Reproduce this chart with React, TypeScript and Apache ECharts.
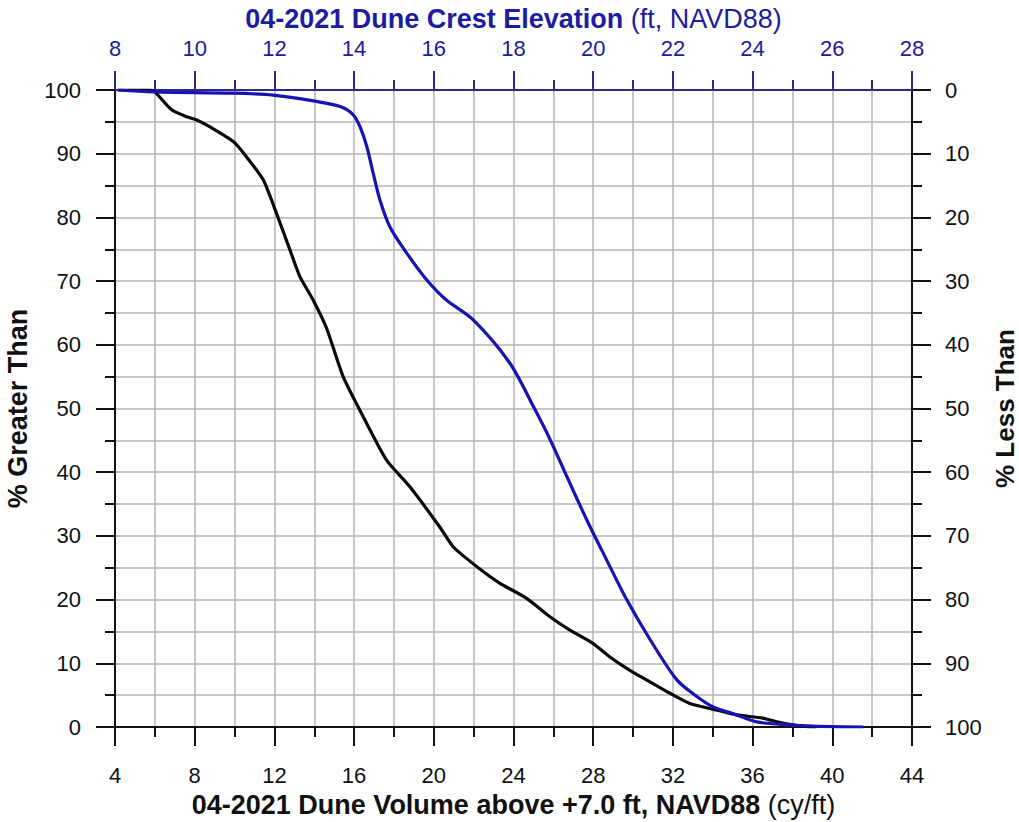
import React, { useEffect, useRef } from "react";
import * as echarts from "echarts";

// Black curve: dune volume (cy/ft) vs % greater than
const volume = [4.15, 5.75, 6.0, 6.84, 7.6, 8.1, 8.77, 9.94, 10.6, 11.44, 12.11, 12.78, 13.28, 13.95, 14.62, 15.45, 16.46, 17.63, 18.8, 20.3, 20.97, 22.15, 23.3, 24.66, 25.83, 26.83, 28.0, 28.84, 29.84, 30.84, 31.85, 32.85, 34.0, 35.2, 36.5, 37.5, 38.5, 39.2];
const volumePct = [100, 100, 99.7, 96.9, 95.8, 95.3, 94.2, 91.9, 89.5, 85.9, 80.6, 74.9, 70.7, 67.0, 62.6, 55.0, 48.7, 41.9, 37.7, 31.4, 28.3, 25.2, 22.6, 20.2, 17.3, 15.2, 13.1, 11.0, 8.9, 7.1, 5.3, 3.7, 2.8, 1.9, 1.4, 0.6, 0.15, 0];

// Blue curve: dune crest elevation (ft) vs % greater than
const elevation = [8.08, 8.96, 10.97, 11.97, 12.98, 13.65, 13.98, 14.15, 14.32, 14.48, 14.65, 14.9, 15.32, 15.82, 16.3, 16.99, 17.91, 18.5, 18.92, 19.34, 19.84, 20.34, 20.84, 21.43, 22.1, 22.6, 23.0, 23.6, 24.1, 24.94, 25.95, 26.78];
const elevationPct = [100, 99.7, 99.5, 99.2, 98.3, 97.4, 96.1, 94.2, 91.1, 86.9, 82.7, 78.5, 74.4, 70.2, 67.1, 63.9, 57.1, 50.3, 45.1, 39.3, 32.5, 26.2, 20.0, 13.7, 7.4, 4.8, 3.2, 1.9, 0.8, 0.3, 0.05, 0];

const bottomTitle = "04-2021 Dune Volume above +7.0 ft, NAVD88";
const bottomUnit = "(cy/ft)";
const topTitle = "04-2021 Dune Crest Elevation";
const topUnit = "(ft, NAVD88)";
const leftTitle = "% Greater Than";
const rightTitle = "% Less Than";

const FONT = "Liberation Sans, Arial, sans-serif";
const BLUE_TEXT = "#1c1ca0";
const BLUE_LINE = "#1414b4";
const GRID = "#b4b4b4";
const TITLE_SIZE = 27;
const TICK_SIZE = 22;

export default function App() {
  const ref = useRef<HTMLDivElement>(null);
  useEffect(() => {
    if (!ref.current) return;
    const chart = echarts.init(ref.current, null, { renderer: "svg" });
    const gridLine = { show: true, lineStyle: { color: GRID, width: 1.5 } };
    const labelStyle = { color: "#111", fontFamily: FONT, fontSize: TICK_SIZE };
    chart.setOption({
      animation: false,
      backgroundColor: "#fff",
      grid: { left: 115, top: 90, width: 797, height: 637, containLabel: false, outerBoundsMode: "none" },
      xAxis: [
        {
          type: "value",
          position: "bottom",
          min: 4,
          max: 44,
          interval: 4,
          axisLine: { show: true, onZero: false, lineStyle: { color: "#111", width: 2 } },
          axisTick: { show: true, length: 19, lineStyle: { color: "#111", width: 2 } },
          minorTick: { show: true, splitNumber: 2, length: 10, lineStyle: { color: "#111", width: 2 } },
          splitLine: gridLine,
          minorSplitLine: gridLine,
          axisLabel: { ...labelStyle, margin: 37 },
          name: `{b|${bottomTitle}}{n| ${bottomUnit}}`,
          nameLocation: "middle",
          nameGap: 64,
          nameTextStyle: {
            rich: {
              b: { fontFamily: FONT, fontSize: TITLE_SIZE, fontWeight: "bold", color: "#111" },
              n: { fontFamily: FONT, fontSize: TITLE_SIZE, color: "#111" },
            },
          },
        },
        {
          type: "value",
          position: "top",
          min: 8,
          max: 28,
          interval: 2,
          axisLine: { show: true, onZero: false, lineStyle: { color: "#2a2a8c", width: 2 } },
          axisTick: { show: true, length: 19, lineStyle: { color: "#2a2a8c", width: 2 } },
          minorTick: { show: true, splitNumber: 2, length: 10, lineStyle: { color: "#2a2a8c", width: 2 } },
          splitLine: { show: false },
          axisLabel: { ...labelStyle, color: BLUE_TEXT, margin: 31 },
          name: `{b|${topTitle}}{n| ${topUnit}}`,
          nameLocation: "middle",
          nameGap: 58,
          nameTextStyle: {
            rich: {
              b: { fontFamily: FONT, fontSize: TITLE_SIZE, fontWeight: "bold", color: BLUE_TEXT },
              n: { fontFamily: FONT, fontSize: TITLE_SIZE, color: BLUE_TEXT },
            },
          },
        },
      ],
      yAxis: [
        {
          type: "value",
          position: "left",
          min: 0,
          max: 100,
          interval: 10,
          axisLine: { show: true, onZero: false, lineStyle: { color: "#111", width: 2 } },
          axisTick: { show: true, length: 19, lineStyle: { color: "#111", width: 2 } },
          minorTick: { show: true, splitNumber: 2, length: 10, lineStyle: { color: "#111", width: 2 } },
          splitLine: gridLine,
          minorSplitLine: gridLine,
          axisLabel: { ...labelStyle, margin: 34 },
          name: leftTitle,
          nameLocation: "middle",
          nameGap: 84,
          nameTextStyle: { fontFamily: FONT, fontSize: TITLE_SIZE, fontWeight: "bold", color: "#111" },
        },
        {
          type: "value",
          position: "right",
          min: 0,
          max: 100,
          interval: 10,
          inverse: true,
          axisLine: { show: true, onZero: false, lineStyle: { color: "#111", width: 2 } },
          axisTick: { show: true, length: 19, lineStyle: { color: "#111", width: 2 } },
          minorTick: { show: true, splitNumber: 2, length: 10, lineStyle: { color: "#111", width: 2 } },
          splitLine: { show: false },
          axisLabel: { ...labelStyle, margin: 33 },
          name: rightTitle,
          nameLocation: "middle",
          nameGap: 80,
          nameRotate: 90,
          nameMoveOverlap: false,
          nameTextStyle: { fontFamily: FONT, fontSize: 26, lineHeight: 26, fontWeight: "bold", color: "#111" },
        },
      ],
      series: [
        {
          type: "line",
          xAxisIndex: 0,
          yAxisIndex: 0,
          data: volume.map((v, i) => [v, volumePct[i]]),
          showSymbol: false,
          smooth: 0.2,
          lineStyle: { color: "#0a0a0a", width: 3.2 },
          z: 3,
        },
        {
          type: "line",
          xAxisIndex: 1,
          yAxisIndex: 0,
          data: elevation.map((v, i) => [v, elevationPct[i]]),
          showSymbol: false,
          smooth: 0.3,
          lineStyle: { color: BLUE_LINE, width: 3.2 },
          z: 4,
        },
      ],
    });
    return () => chart.dispose();
  }, []);
  return (
    <div
      ref={ref}
      style={{ position: "absolute", left: 0, top: 0, width: 1019, height: 822 }}
    />
  );
}
